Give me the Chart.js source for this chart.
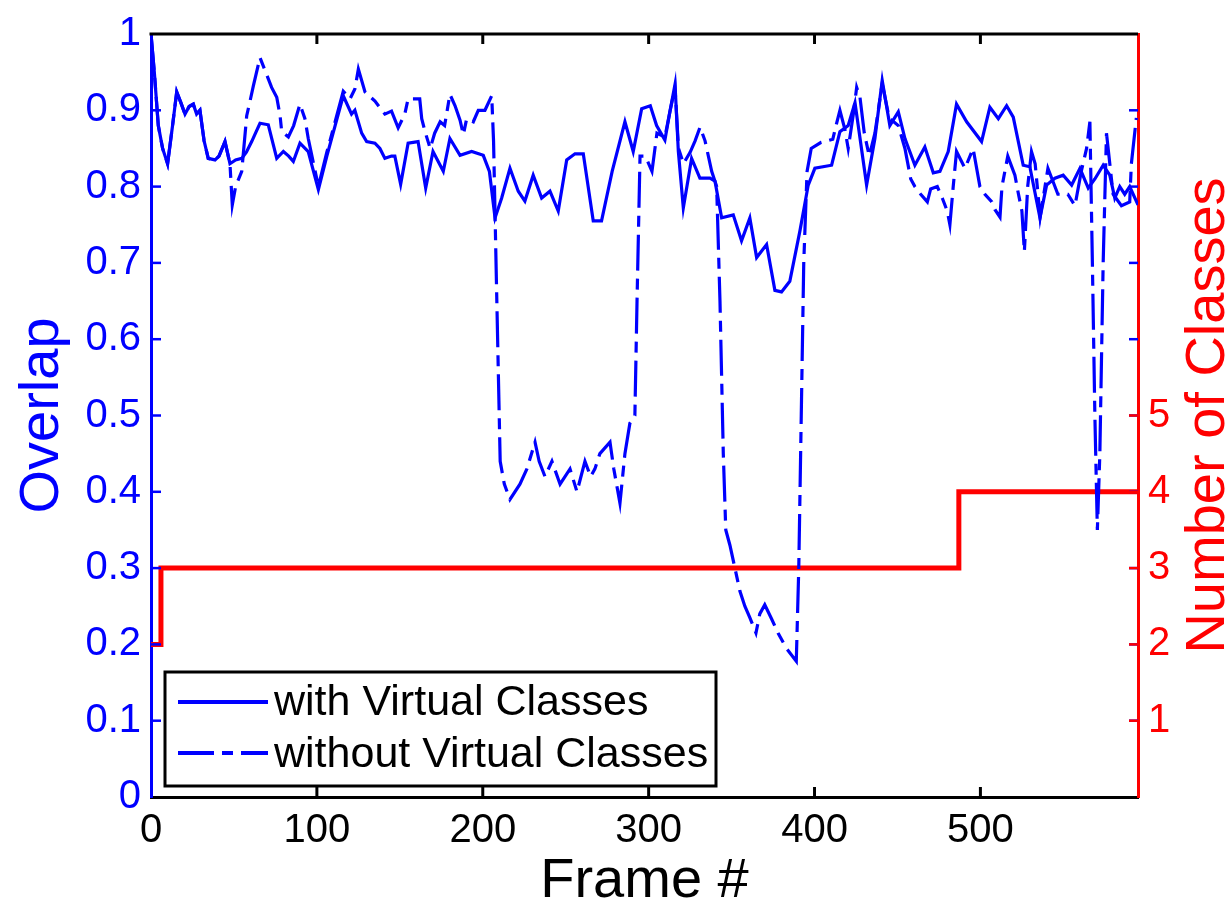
<!DOCTYPE html>
<html>
<head>
<meta charset="utf-8">
<title>Overlap per frame</title>
<script src="https://cdn.jsdelivr.net/npm/chart.js@4.4.1/dist/chart.umd.min.js"></script>
<style>
  html, body { margin: 0; padding: 0; background: #fff; }
  #chart { display: block; }
</style>
</head>
<body>
<canvas id="chart" width="1229" height="903"></canvas>
<script>
// values
var withFrames = [0, 2, 4.4, 7, 10, 13, 15.5, 18, 20.5, 23,
  25.5, 27.5, 29.5, 32, 34.5, 38.6, 41, 44.6, 47.6, 51,
  54.7, 57.5, 60.7, 63, 65.7, 70.7, 75.8, 79.8, 83, 85.8,
  89.8, 94.8, 100.9, 106, 111, 115.9, 120.9, 122.9, 127, 130,
  135, 138, 141, 145, 147, 150.5, 155, 161, 165.6, 170,
  176.2, 180.2, 186.3, 193.3, 200.3, 204, 207.4, 211.4, 216.4, 221.4,
  225.4, 230.4, 235.5, 240.5, 245.5, 250.6, 255.6, 260.6, 266.6, 271.6,
  278, 285.7, 290.7, 295.8, 301, 304.8, 309.8, 312.8, 315.9, 317.9,
  320.9, 325.9, 330.9, 337, 340, 344, 351, 356, 361, 365.1,
  371.1, 376.1, 380.1, 385.1, 391.2, 396.2, 400.2, 410.3, 415.3, 420.3,
  424.4, 427, 431.4, 436.4, 440.8, 445.4, 450.5, 454.5, 460.5, 466.5,
  471.6, 475.6, 480.6, 485.6, 491.7, 500.7, 505.7, 510.8, 515.8, 519.8,
  525.8, 529.8, 535.9, 539.9, 544.9, 549.9, 555, 560, 565, 569,
  574, 578, 581, 584, 587, 590, 595];
var withOverlap = [1.00, 0.95, 0.88, 0.85, 0.83, 0.88, 0.924, 0.91, 0.895, 0.905,
  0.908, 0.895, 0.90, 0.86, 0.837, 0.835, 0.84, 0.859, 0.83, 0.835,
  0.837, 0.845, 0.859, 0.87, 0.883, 0.881, 0.837, 0.846, 0.84, 0.833,
  0.857, 0.846, 0.796, 0.84, 0.88, 0.919, 0.895, 0.90, 0.87, 0.859,
  0.857, 0.85, 0.837, 0.84, 0.84, 0.803, 0.857, 0.859, 0.798, 0.846,
  0.82, 0.863, 0.841, 0.846, 0.841, 0.82, 0.759, 0.785, 0.824, 0.794,
  0.781, 0.815, 0.785, 0.794, 0.768, 0.835, 0.843, 0.843, 0.755, 0.755,
  0.82, 0.885, 0.846, 0.902, 0.906, 0.88, 0.861, 0.898, 0.934, 0.846,
  0.772, 0.837, 0.811, 0.811, 0.807, 0.759, 0.763, 0.729, 0.759, 0.707,
  0.724, 0.664, 0.662, 0.676, 0.742, 0.802, 0.824, 0.828, 0.872, 0.88,
  0.91, 0.87, 0.802, 0.863, 0.939, 0.88, 0.898, 0.863, 0.828, 0.852,
  0.818, 0.82, 0.846, 0.908, 0.885, 0.859, 0.904, 0.889, 0.906, 0.891,
  0.828, 0.826, 0.759, 0.802, 0.811, 0.815, 0.802, 0.824, 0.798, 0.81,
  0.828, 0.815, 0.785, 0.80, 0.79, 0.80, 0.776];

var withoutFrames = [0, 2, 4.4, 7, 10, 13, 15.5, 18, 20.5, 23,
  25.5, 27.5, 29.5, 32, 34.5, 38.6, 41, 44.6, 47.6, 49,
  51, 54.7, 57.7, 59.7, 61.7, 65.7, 69.7, 72.7, 75.8, 77.8,
  78.8, 82.8, 86, 89.8, 92.8, 94.8, 100.9, 106, 111, 115.9,
  120, 122.9, 125, 129, 135, 141, 145, 149, 153, 155,
  162, 163.2, 165.2, 168.3, 171, 174.3, 177, 180.2, 183.3, 186.3,
  188.3, 190.3, 194.3, 197.3, 201.3, 205.4, 206.5, 208, 210.5, 213,
  216.4, 222.4, 226.6, 231.5, 234, 237.5, 241.7, 246.6, 252.6, 256.8,
  261.6, 265, 267.6, 270.6, 276.7, 279, 282.7, 285.7, 288.7, 291.7,
  293, 294.8, 298, 302, 305, 309.8, 312.8, 315.9, 318, 321,
  325, 328, 331, 334, 338, 341, 343, 345, 346.5, 349,
  352, 355, 358, 361, 364.7, 367, 370, 374, 378, 383,
  389, 390.5, 392, 393.5, 395.5, 398, 404, 411, 413.3, 415.3,
  418.3, 420.3, 423.4, 425.4, 427.4, 430, 433, 436.4, 440.8, 445,
  450.5, 454.5, 458, 460.5, 464, 468, 470, 474, 477, 480,
  481.6, 483.6, 485.6, 490.7, 495.6, 499.7, 502.7, 506.9, 508.7, 511.8,
  513, 516.5, 520.8, 522.6, 525, 526.5, 528.5, 530.8, 533, 536,
  540.7, 546.7, 552.7, 557, 560.8, 564, 566, 567.5, 569, 570.5,
  572, 574, 576, 580, 585, 590, 591, 594];
var withoutOverlap = [1.00, 0.95, 0.88, 0.85, 0.83, 0.88, 0.924, 0.91, 0.895, 0.905,
  0.908, 0.895, 0.90, 0.86, 0.837, 0.835, 0.84, 0.859, 0.83, 0.776,
  0.80, 0.82, 0.893, 0.912, 0.932, 0.969, 0.947, 0.93, 0.917, 0.893,
  0.872, 0.865, 0.88, 0.908, 0.889, 0.863, 0.80, 0.845, 0.885, 0.925,
  0.915, 0.928, 0.954, 0.924, 0.912, 0.895, 0.899, 0.877, 0.895, 0.915,
  0.915, 0.889, 0.872, 0.85, 0.87, 0.885, 0.88, 0.921, 0.906, 0.887,
  0.868, 0.889, 0.885, 0.90, 0.90, 0.919, 0.86, 0.70, 0.44, 0.41,
  0.39, 0.41, 0.43, 0.465, 0.44, 0.42, 0.44, 0.41, 0.43, 0.40,
  0.44, 0.42, 0.43, 0.45, 0.465, 0.43, 0.385, 0.45, 0.49, 0.50,
  0.65, 0.84, 0.84, 0.82, 0.87, 0.865, 0.898, 0.93, 0.85, 0.83,
  0.845, 0.86, 0.878, 0.86, 0.82, 0.80, 0.65, 0.45, 0.35, 0.33,
  0.30, 0.27, 0.25, 0.235, 0.215, 0.24, 0.252, 0.234, 0.215, 0.195,
  0.178, 0.30, 0.50, 0.70, 0.82, 0.85, 0.858, 0.862, 0.883, 0.90,
  0.875, 0.85, 0.895, 0.93, 0.917, 0.87, 0.84, 0.87, 0.935, 0.89,
  0.88, 0.85, 0.81, 0.80, 0.79, 0.78, 0.797, 0.80, 0.785, 0.768,
  0.75, 0.80, 0.846, 0.824, 0.85, 0.80, 0.79, 0.78, 0.77, 0.76,
  0.80, 0.84, 0.815, 0.794, 0.768, 0.715, 0.80, 0.846, 0.83, 0.76,
  0.824, 0.79, 0.79, 0.775, 0.82, 0.85, 0.885, 0.70, 0.50, 0.35,
  0.45, 0.70, 0.87, 0.79, 0.775, 0.78, 0.83, 0.89];

var classFrames = [0, 6, 487, 595];
var classCounts = [2, 3, 4, 4];
var frameTicks = [0, 100, 200, 300, 400, 500];
var classTickLabels = [1, 2, 3, 4, 5];
var legendLabels = ["with Virtual Classes", "without Virtual Classes"];

const BLUE = "#0000ff";
const RED = "#ff0000";
const FONT = "'Liberation Sans', Arial, Helvetica, sans-serif";
const DASH_DOT = [36, 8, 11, 8];

Chart.defaults.font.family = FONT;
Chart.defaults.color = "#000";

function toPoints(xs, ys) {
  return xs.map((x, i) => ({ x: x, y: ys[i] }));
}

function line(ctx, x1, y1, x2, y2) {
  ctx.beginPath();
  ctx.moveTo(x1, y1);
  ctx.lineTo(x2, y2);
  ctx.stroke();
}

// inward ticks, top box edge, axis titles and the boxed legend
const frameDecor = {
  id: "frameDecor",
  afterDraw(chart) {
    const ctx = chart.ctx;
    const a = chart.chartArea;
    const xs = chart.scales.x, ys = chart.scales.y, y2s = chart.scales.y2;
    ctx.save();
    ctx.lineCap = "butt";

    ctx.strokeStyle = "#000";
    ctx.lineWidth = 3;
    line(ctx, a.left - 1.5, a.top, a.right, a.top);
    frameTicks.forEach(v => {
      if (v <= xs.min || v >= xs.max) return;
      const px = xs.getPixelForValue(v);
      line(ctx, px, a.bottom, px, a.bottom - 10);
      line(ctx, px, a.top, px, a.top + 10);
    });

    ctx.strokeStyle = BLUE;
    ctx.lineWidth = 2.5;
    ys.ticks.forEach(t => {
      if (t.value <= ys.min + 1e-9 || t.value >= ys.max - 1e-9) return;
      const py = ys.getPixelForValue(t.value);
      line(ctx, a.left, py, a.left + 10, py);
      line(ctx, a.right, py, a.right - 9, py);
    });
    ctx.strokeStyle = RED;
    classTickLabels.forEach(v => {
      const py = y2s.getPixelForValue(v);
      line(ctx, a.right, py, a.right - 9, py);
    });

    // axis titles
    ctx.font = "56px " + FONT;
    ctx.textAlign = "center";
    ctx.textBaseline = "alphabetic";
    const midY = (a.top + a.bottom) / 2;
    ctx.fillStyle = BLUE;
    ctx.save();
    ctx.translate(a.left - 93, midY);
    ctx.rotate(-Math.PI / 2);
    ctx.fillText("Overlap", 0, 0);
    ctx.restore();
    ctx.fillStyle = RED;
    ctx.save();
    ctx.translate(a.right + 86, midY);
    ctx.rotate(-Math.PI / 2);
    ctx.fillText("Number of Classes", 0, 0);
    ctx.restore();
    ctx.fillStyle = "#000";
    ctx.fillText("Frame #", (a.left + a.right) / 2, a.bottom + 100);

    // legend box
    const lx = a.left + 14, ly = a.bottom - 125, lw = 551, lh = 114;
    ctx.fillStyle = "#fff";
    ctx.fillRect(lx, ly, lw, lh);
    ctx.strokeStyle = "#000";
    ctx.lineWidth = 3;
    ctx.strokeRect(lx, ly, lw, lh);
    const rows = [
      { label: legendLabels[0], dash: [], lineY: ly + 30, textY: ly + 43 },
      { label: legendLabels[1], dash: DASH_DOT, lineY: ly + 81, textY: ly + 95 }
    ];
    ctx.font = "43px " + FONT;
    ctx.textAlign = "left";
    rows.forEach(r => {
      ctx.strokeStyle = BLUE;
      ctx.lineWidth = 4;
      ctx.setLineDash(r.dash);
      line(ctx, lx + 13, r.lineY, lx + 103, r.lineY);
      ctx.setLineDash([]);
      ctx.fillStyle = "#000";
      ctx.fillText(r.label, lx + 109, r.textY);
    });
    ctx.restore();
  }
};

const ctx = document.getElementById("chart");
new Chart(ctx, {
  type: "line",
  data: {
    datasets: [
      {
        label: legendLabels[0],
        data: toPoints(withFrames, withOverlap),
        borderColor: BLUE,
        borderWidth: 3.2,
        pointRadius: 0,
        tension: 0,
        yAxisID: "y"
      },
      {
        label: legendLabels[1],
        data: toPoints(withoutFrames, withoutOverlap),
        borderColor: BLUE,
        borderWidth: 3.2,
        borderDash: DASH_DOT,
        pointRadius: 0,
        tension: 0,
        yAxisID: "y"
      },
      {
        label: "Number of Classes",
        data: toPoints(classFrames, classCounts),
        borderColor: RED,
        borderWidth: 5,
        pointRadius: 0,
        stepped: "before",
        yAxisID: "y2"
      }
    ]
  },
  options: {
    responsive: false,
    animation: false,
    events: [],
    layout: { padding: { top: 29, left: 0, right: 0, bottom: 0 } },
    plugins: {
      legend: { display: false },
      tooltip: { enabled: false }
    },
    scales: {
      x: {
        type: "linear",
        position: "bottom",
        min: 0,
        max: 595,
        afterBuildTicks: s => { s.ticks = frameTicks.map(v => ({ value: v })); },
        ticks: {
          autoSkip: false,
          maxRotation: 0,
          color: "#000",
          font: { size: 40 },
          padding: 10,
          callback: v => String(v)
        },
        grid: { drawOnChartArea: false, drawTicks: false },
        border: { color: "#000", width: 3 },
        afterFit: s => { s.height = 106; }
      },
      y: {
        position: "left",
        min: 0,
        max: 1,
        ticks: {
          stepSize: 0.1,
          autoSkip: false,
          color: BLUE,
          font: { size: 40 },
          padding: 10,
          callback: v => String(Math.round(v * 10) / 10)
        },
        grid: { drawOnChartArea: false, drawTicks: false },
        border: { color: BLUE, width: 3 },
        afterFit: s => { s.width = 151; }
      },
      y2: {
        position: "right",
        min: 0,
        max: 10,
        ticks: {
          stepSize: 1,
          autoSkip: false,
          color: RED,
          font: { size: 40 },
          padding: 10,
          callback: v => (classTickLabels.indexOf(v) >= 0 ? String(v) : "")
        },
        grid: { drawOnChartArea: false, drawTicks: false },
        border: { color: RED, width: 3 },
        afterFit: s => { s.width = 91; }
      }
    }
  },
  plugins: [frameDecor]
});
</script>
</body>
</html>
